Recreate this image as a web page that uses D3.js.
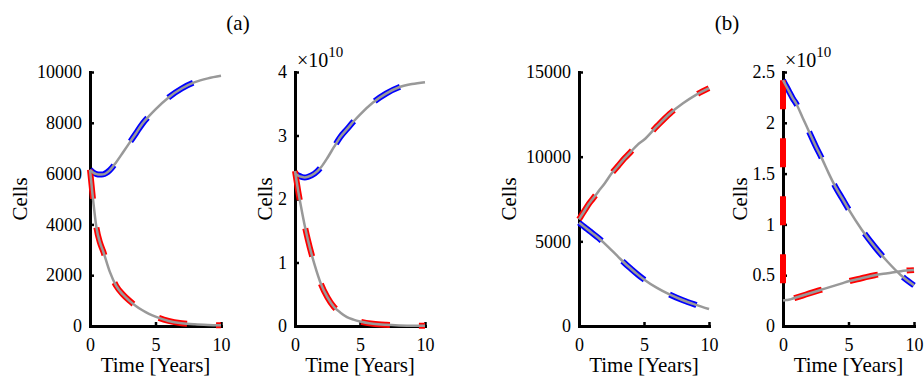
<!DOCTYPE html>
<html>
<head>
<meta charset="utf-8">
<script src="https://cdn.jsdelivr.net/npm/d3@7"></script>
<style>
body { margin: 0; background: #fff; }
</style>
</head>
<body>
<svg id="chart" width="924" height="380"></svg>
<script>
// time grid (years) shared by every series
var years = [0, 0.25, 0.5, 0.75, 1, 1.5, 2, 2.5, 3, 3.5, 4, 4.5, 5, 6, 7, 8, 9, 10];
var xTicks = [0, 5, 10];

// (a) left panel, cells
var blueA1 = [6150, 6040, 5980, 5960, 5970, 6130, 6450, 6820, 7200, 7580, 7960, 8260, 8530, 9000, 9350, 9600, 9750, 9850];
var redA1 = [6150, 4900, 3850, 3300, 2950, 2150, 1580, 1250, 1000, 790, 620, 480, 370, 200, 110, 65, 40, 25];
var yTicksA1 = [0, 2000, 4000, 6000, 8000, 10000];

// (a) right panel, x 10^10 cells
var blueA2 = [2.40, 2.37, 2.35, 2.34, 2.35, 2.40, 2.50, 2.65, 2.82, 2.98, 3.10, 3.22, 3.33, 3.52, 3.66, 3.76, 3.81, 3.84];
var redA2 = [2.44, 2.12, 1.84, 1.58, 1.35, 0.97, 0.66, 0.45, 0.30, 0.21, 0.14, 0.10, 0.07, 0.035, 0.018, 0.009, 0.005, 0.003];
var yTicksA2 = [0, 1, 2, 3, 4];

// (b) left panel, cells
var blueB1 = [6100, 5950, 5800, 5650, 5500, 5200, 4850, 4480, 4100, 3720, 3380, 3050, 2750, 2250, 1850, 1520, 1250, 1000];
var redB1 = [6300, 6600, 6900, 7200, 7450, 7950, 8450, 9000, 9450, 9900, 10300, 10700, 11000, 11800, 12550, 13150, 13650, 14050];
var yTicksB1 = [0, 5000, 10000, 15000];

// (b) right panel, x 10^10 cells
var blueB2 = [2.42, 2.36, 2.30, 2.24, 2.19, 2.05, 1.91, 1.77, 1.64, 1.50, 1.37, 1.26, 1.15, 0.95, 0.78, 0.63, 0.50, 0.40];
var redB2 = [0.25, 0.255, 0.26, 0.27, 0.28, 0.30, 0.32, 0.34, 0.36, 0.38, 0.40, 0.42, 0.44, 0.47, 0.50, 0.52, 0.54, 0.55];
var redB2Start = 2.42; // red data begins here at t = 0, then drops to the curve
var yTicksB2 = [0, 0.5, 1, 1.5, 2, 2.5];

var FONT = "'Liberation Serif', 'Times New Roman', Times, 'Noto Serif', 'DejaVu Serif', serif";
var TOP = 72, BOTTOM = 326;
var svg = d3.select("#chart");

var panels = [
  {blue: blueA1, red: redA1, yMax: 10000, yTicks: yTicksA1, left: 90, right: 221, labelX: 27},
  {blue: blueA2, red: redA2, yMax: 4, yTicks: yTicksA2, left: 295, right: 425, labelX: 272, exp: true},
  {blue: blueB1, red: redB1, yMax: 15000, yTicks: yTicksB1, left: 579, right: 709, labelX: 516},
  {blue: blueB2, red: redB2, yMax: 2.5, yTicks: yTicksB2, left: 783, right: 914, labelX: 747, exp: true, redStart: redB2Start}
];

function drawPanel(p) {
  var x = d3.scaleLinear().domain([0, 10]).range([p.left, p.right]);
  var y = d3.scaleLinear().domain([0, p.yMax]).range([BOTTOM, TOP]);
  var g = svg.append("g").attr("class", "panel");

  var yAxis = g.append("g")
    .attr("transform", "translate(" + p.left + ",0)")
    .call(d3.axisLeft(y).tickValues(p.yTicks).tickFormat(function(d) { return String(d); })
      .tickSizeInner(-4).tickSizeOuter(0).tickPadding(8));
  var xAxis = g.append("g")
    .attr("transform", "translate(0," + BOTTOM + ")")
    .call(d3.axisBottom(x).tickValues(xTicks).tickFormat(function(d) { return String(d); })
      .tickSizeInner(-4).tickSizeOuter(0).tickPadding(12));

  [yAxis, xAxis].forEach(function(a) {
    a.attr("font-family", FONT).attr("font-size", 18);
    a.select(".domain").attr("stroke", "#000").attr("stroke-width", 3).attr("stroke-linecap", "square");
    a.selectAll(".tick line").attr("stroke", "#000").attr("stroke-width", 2.5);
    a.selectAll(".tick text").attr("fill", "#000");
  });

  var line = d3.line()
    .x(function(d, i) { return x(years[i]); })
    .y(function(d) { return y(d); })
    .curve(d3.curveMonotoneX);

  g.append("path")
    .attr("d", line(p.blue))
    .attr("fill", "none").attr("stroke", "#0000ff").attr("stroke-width", 6)
    .attr("stroke-dasharray", "29,29");

  var redPath = line(p.red);
  if (p.redStart !== undefined) {
    redPath = "M" + x(0) + "," + y(p.redStart) + "L" + redPath.slice(1);
  }
  g.append("path")
    .attr("d", redPath)
    .attr("fill", "none").attr("stroke", "#ff0000").attr("stroke-width", 6)
    .attr("stroke-dasharray", "29,29");

  [p.blue, p.red].forEach(function(s) {
    g.append("path")
      .attr("d", line(s))
      .attr("fill", "none").attr("stroke", "#999999").attr("stroke-width", 2.5);
  });

  g.append("text")
    .attr("transform", "translate(" + p.labelX + "," + ((TOP + BOTTOM) / 2) + ") rotate(-90)")
    .attr("text-anchor", "middle")
    .attr("font-family", FONT).attr("font-size", 21)
    .text("Cells");

  g.append("text")
    .attr("x", (p.left + p.right) / 2)
    .attr("y", 372)
    .attr("text-anchor", "middle")
    .attr("font-family", FONT).attr("font-size", 21)
    .text("Time [Years]");

  if (p.exp) {
    var t = g.append("text")
      .attr("x", p.left + 2)
      .attr("y", 67)
      .attr("font-family", FONT).attr("font-size", 20)
      .text("\u00d710");
    t.append("tspan").attr("dy", -10).attr("font-size", 15).text("10");
  }
}

panels.forEach(drawPanel);

svg.append("text").attr("x", 238).attr("y", 30).attr("text-anchor", "middle")
  .attr("font-family", FONT).attr("font-size", 21).text("(a)");
svg.append("text").attr("x", 727).attr("y", 30).attr("text-anchor", "middle")
  .attr("font-family", FONT).attr("font-size", 21).text("(b)");
</script>
</body>
</html>
